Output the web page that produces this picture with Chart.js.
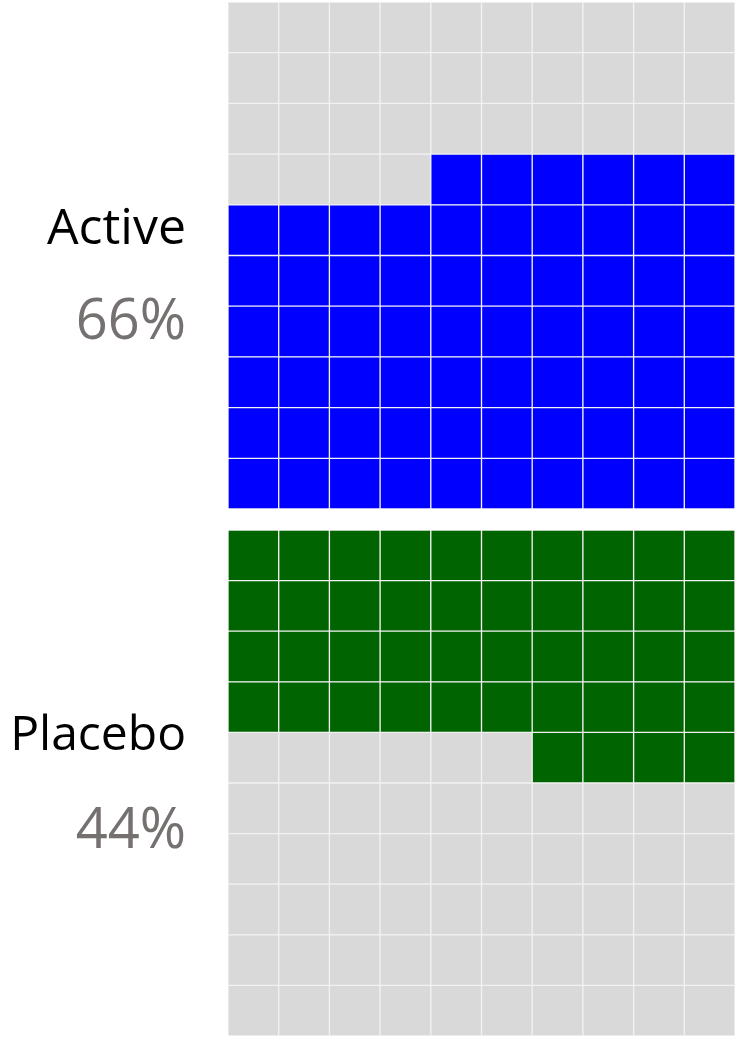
<!DOCTYPE html>
<html>
<head>
<meta charset="utf-8">
<script src="https://cdn.jsdelivr.net/npm/chart.js@4/dist/chart.umd.min.js"></script>
<style>
  html, body { margin: 0; padding: 0; background: #fff; }
  canvas { display: block; }
</style>
</head>
<body>
<canvas id="activeChart" width="737" height="520"></canvas>
<canvas id="placeboChart" width="737" height="518"></canvas>
<script>
const columns = ["1", "2", "3", "4", "5", "6", "7", "8", "9", "10"];
// filled cells per row, listed top row first (filled cells sit on the right)
const activeRows = [0, 0, 0, 6, 10, 10, 10, 10, 10, 10];
const placeboRows = [10, 10, 10, 10, 4, 0, 0, 0, 0, 0];
const groupNames = ["Active", "Placebo"];
const groupPercents = ["66%", "44%"];

const emptyColor = "#d9d9d9";
const lineColor = "#f2f2f2";

function buildDatasets(rows, fillColor) {
  // stacked bars build from the bottom up, so walk the rows in reverse
  return rows
    .slice()
    .reverse()
    .map((filled, index) => ({
      label: "row " + index,
      data: columns.map(() => 1),
      backgroundColor: columns.map((_, col) =>
        col >= columns.length - filled ? fillColor : emptyColor
      ),
      borderColor: lineColor,
      borderWidth: 1,
      borderSkipped: false,
      barPercentage: 1,
      categoryPercentage: 1,
    }));
}

function labelPlugin(name, nameSize, percent, nameY, percentY) {
  return {
    id: "sideLabel",
    afterDraw(chart) {
      const ctx = chart.ctx;
      ctx.save();
      ctx.textAlign = "right";
      ctx.textBaseline = "alphabetic";
      ctx.font = nameSize + "px 'Open Sans'";
      ctx.fillStyle = "#000000";
      ctx.fillText(name, 186, nameY);
      ctx.font = "56px 'Open Sans'";
      ctx.fillStyle = "#767171";
      ctx.fillText(percent, 186, percentY);
      ctx.restore();
    },
  };
}

function renderWaffle(canvasId, rows, fillColor, padding, plugin) {
  new Chart(document.getElementById(canvasId), {
    type: "bar",
    data: {
      labels: columns,
      datasets: buildDatasets(rows, fillColor),
    },
    options: {
      responsive: false,
      animation: false,
      layout: { padding },
      plugins: {
        legend: { display: false },
        tooltip: { enabled: false },
      },
      scales: {
        x: { stacked: true, display: false },
        y: { stacked: true, display: false, min: 0, max: 10 },
      },
    },
    plugins: [plugin],
  });
}

renderWaffle(
  "activeChart",
  activeRows,
  "#0000ff",
  { left: 228, right: 2, top: 2, bottom: 11 },
  labelPlugin(groupNames[0], 50, groupPercents[0], 244, 339)
);

renderWaffle(
  "placeboChart",
  placeboRows,
  "#006400",
  { left: 228, right: 2, top: 10, bottom: 2 },
  labelPlugin(groupNames[1], 48, groupPercents[1], 750 - 520, 848 - 520)
);
</script>
</body>
</html>
